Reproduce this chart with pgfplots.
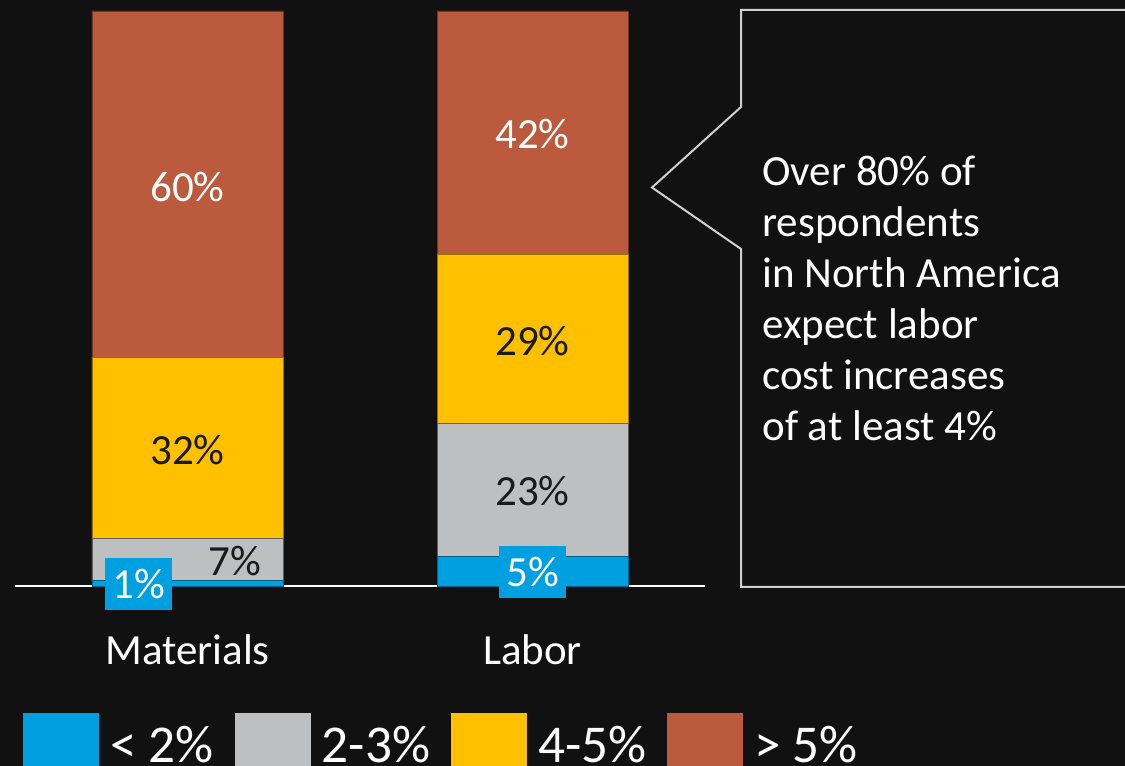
\documentclass[border=0pt]{standalone}
\usepackage{pgfplots}
\usepackage{pgfplotstable}
\pgfplotsset{compat=1.18}
\usepackage{fontspec}
\setmainfont{Carlito}
\definecolor{bg}{HTML}{111111}
\definecolor{cblue}{HTML}{009FE0}
\definecolor{cgray}{HTML}{BEBFC1}
\definecolor{cyellow}{HTML}{FFC000}
\definecolor{corange}{HTML}{BB5A3C}
\definecolor{cline}{HTML}{D0D0D0}
\definecolor{cdark}{HTML}{1A1A1A}
\newcommand\lblfont{\fontsize{21.5}{25}\selectfont}
\newcommand\legfont{\fontsize{26.6}{30}\selectfont}

\pgfplotstableread{
x blue gray yellow orange
0 1.0 7.3 31.5 60.2
1 5.2 23.1 29.4 42.3
}\datatable

\pgfplotstableread{
x y lbl
0 69.4 60
1 78.6 42
}\whitelabels

\pgfplotstableread{
x y lbl
0 23.7 32
0.138 4.26 7
1 42.6 29
1 16.5 23
}\darklabels

\pgfplotstableread{
x y lbl
-0.141 0.35 1
1 2.5 5
}\boxlabels

\begin{document}
\begin{tikzpicture}
\useasboundingbox (0,0) rectangle (562.5pt,383pt);
\fill[bg] (0,0) rectangle (562.5pt,383pt);
\clip (0,0) rectangle (562.5pt,383pt);
\begin{axis}[
  at={(7.5pt,90pt)}, anchor=south west,
  scale only axis, width=345pt, height=287.5pt,
  xmin=-0.5, xmax=1.5, ymin=0, ymax=100,
  ybar stacked, bar width=95.5pt,
  axis x line*=bottom, axis y line=none,
  x axis line style={white, line width=1pt},
  xtick={0,1}, xticklabels={Materials,Labor},
  major tick length=0pt,
  xticklabel style={text=white, font=\lblfont, anchor=base, yshift=-39pt},
  legend columns=4,
  legend style={at={(0.0116,-0.2209)}, anchor=north west, draw=none, fill=none,
    inner sep=0pt, font=\legfont, text=white, nodes={inner sep=0pt},
    /tikz/every odd column/.append style={column sep=5.5pt},
    /tikz/every even column/.append style={column sep=10.5pt}},
  legend image code/.code={\fill[#1, draw=none] (0pt,-30pt) rectangle (38pt,16.2pt);},
  clip=false,
]
\addplot[fill=cblue, draw=cblue!60!black, line width=0.4pt] table[x=x,y=blue]{\datatable};
\addplot[fill=cgray, draw=cgray!50!black, line width=0.4pt] table[x=x,y=gray]{\datatable};
\addplot[fill=cyellow, draw=cyellow!60!black, line width=0.4pt] table[x=x,y=yellow]{\datatable};
\addplot[fill=corange, draw=corange!60!black, line width=0.4pt] table[x=x,y=orange]{\datatable};
\legend{{< 2\%},{2-3\%},{4-5\%},{> 5\%}}
\end{axis}
\begin{axis}[
  at={(7.5pt,90pt)}, anchor=south west,
  scale only axis, width=345pt, height=287.5pt,
  xmin=-0.5, xmax=1.5, ymin=0, ymax=100,
  hide axis, clip=false,
]
\addplot[draw=none, mark=none, nodes near coords={\pgfplotspointmeta\%}, point meta=explicit symbolic,
  nodes near coords style={anchor=center, text=white, font=\lblfont, inner sep=0pt}]
  table[x=x,y=y,meta=lbl]{\whitelabels};
\addplot[draw=none, mark=none, nodes near coords={\pgfplotspointmeta\%}, point meta=explicit symbolic,
  nodes near coords style={anchor=center, text=cdark, font=\lblfont, inner sep=0pt}]
  table[x=x,y=y,meta=lbl]{\darklabels};
\addplot[draw=none, mark=none, nodes near coords={\pgfplotspointmeta\%}, point meta=explicit symbolic,
  nodes near coords style={anchor=center, text=white, font=\lblfont, inner sep=0pt,
    fill=cblue, minimum width=33.5pt, minimum height=26pt}]
  table[x=x,y=y,meta=lbl]{\boxlabels};
\end{axis}
\draw[cline, line width=1pt, line join=miter]
  (566pt,378pt) -- (370.5pt,378pt) -- (370.5pt,329.5pt) -- (326pt,289.25pt)
  -- (370.5pt,258.5pt) -- (370.5pt,89.5pt) -- (566pt,89.5pt);
\node[anchor=base west, inner sep=0pt, text=white, font=\lblfont] at (381pt,290pt) {Over 80\% of};
\node[anchor=base west, inner sep=0pt, text=white, font=\lblfont] at (381pt,264.5pt) {respondents};
\node[anchor=base west, inner sep=0pt, text=white, font=\lblfont] at (381pt,239pt) {in North America};
\node[anchor=base west, inner sep=0pt, text=white, font=\lblfont] at (381pt,213.5pt) {expect labor};
\node[anchor=base west, inner sep=0pt, text=white, font=\lblfont] at (381pt,188pt) {cost increases};
\node[anchor=base west, inner sep=0pt, text=white, font=\lblfont] at (381pt,162.5pt) {of at least 4\%};
\end{tikzpicture}
\end{document}
